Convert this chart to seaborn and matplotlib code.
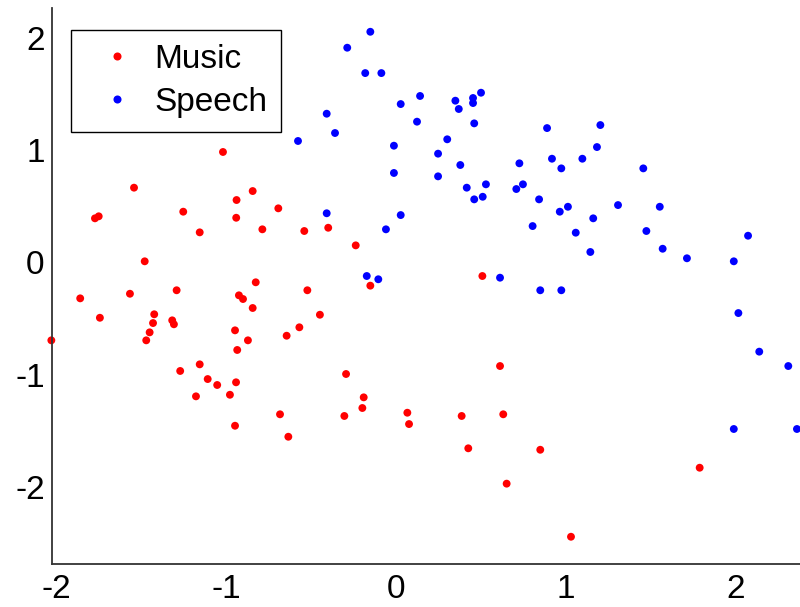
import numpy as np
import pandas as pd
import matplotlib
matplotlib.use("Agg")
import matplotlib.pyplot as plt
import seaborn as sns

# ---- data ----
music_x = [-2.029, -1.859, -1.772, -1.750, -1.743, -1.566, -1.542, -1.479, -1.423, -1.430,
           -1.450, -1.470, -1.291, -1.317, -1.307, -1.252, -1.155, -1.018, -0.938, -0.940,
           -0.924, -0.900, -0.947, -0.934, -1.155, -1.270, -1.108, -1.052, -0.941, -1.177,
           -0.977, -0.947, -0.843, -0.692, -0.786, -0.539, -0.398, -0.236, -0.150, -0.825,
           -0.843, -0.521, -0.447, -0.568, -0.643, -0.871, -0.293, -0.189, -0.682, -0.633,
           -0.303, -0.197, 0.068, 0.078, 0.388, 0.633, 0.427, 0.851, 0.653, 1.032,
           1.790, 0.510, 0.614]
music_y = [-0.695, -0.321, 0.392, 0.410, -0.494, -0.280, 0.665, 0.009, -0.463, -0.541,
           -0.624, -0.695, -0.249, -0.517, -0.552, 0.451, 0.267, 0.983, 0.555, 0.397,
           -0.294, -0.327, -0.606, -0.781, -0.909, -0.968, -1.040, -1.093, -1.069, -1.194,
           -1.180, -1.456, 0.635, 0.481, 0.294, 0.279, 0.308, 0.151, -0.208, -0.178,
           -0.407, -0.249, -0.467, -0.579, -0.654, -0.695, -0.995, -1.203, -1.354, -1.554,
           -1.369, -1.298, -1.340, -1.441, -1.369, -1.354, -1.657, -1.670, -1.972, -2.445,
           -1.830, -0.122, -0.924]

speech_x = [-0.150, -0.286, -0.180, -0.085, 0.143, 0.029, 0.125, -0.407, -0.358, -0.576,
            -0.011, -0.011, 0.249, 0.249, 0.303, 0.380, 0.371, 0.351, 0.455, 0.455,
            0.502, 0.462, 0.418, 0.531, 0.462, 0.512, 0.728, 0.710, 0.749, 0.844,
            0.891, 0.920, 0.975, 1.099, 1.185, 1.205, 1.458, 0.966, 1.014, 1.163,
            1.309, 0.806, 1.060, 1.146, 0.614, 0.851, 0.975, 1.555, 1.476, 1.572,
            1.715, 2.075, 1.991, 2.018, 2.141, 2.312, 1.991, 2.363, -0.407, 0.029,
            -0.058, -0.171, -0.103]
speech_y = [2.054, 1.912, 1.686, 1.686, 1.482, 1.410, 1.253, 1.324, 1.152, 1.081,
            1.039, 0.796, 0.968, 0.766, 1.096, 0.867, 1.366, 1.440, 1.464, 1.419,
            1.511, 1.238, 0.665, 0.695, 0.561, 0.584, 0.882, 0.653, 0.695, 0.561,
            1.196, 0.923, 0.837, 0.923, 1.027, 1.223, 0.837, 0.451, 0.495, 0.392,
            0.510, 0.323, 0.264, 0.092, -0.137, -0.249, -0.249, 0.495, 0.279, 0.121,
            0.036, 0.237, 0.009, -0.452, -0.796, -0.924, -1.485, -1.485, 0.437, 0.421,
            0.294, -0.122, -0.151]

classes = ["Music", "Speech"]
class_colors = {"Music": "#ff0000", "Speech": "#0000ff"}
x_ticks = [-2, -1, 0, 1, 2]
y_ticks = [-2, -1, 0, 1, 2]

df = pd.DataFrame({
    "x": music_x + speech_x,
    "y": music_y + speech_y,
    "cls": ["Music"] * len(music_x) + ["Speech"] * len(speech_x),
})

sns.set_style("white")
plt.rcParams["font.family"] = ["Liberation Sans", "DejaVu Sans"]
plt.rcParams["axes.unicode_minus"] = False
plt.rcParams["text.color"] = "black"

fig = plt.figure(figsize=(8.0, 6.07), dpi=100)
ax = fig.add_axes([0.0646, 0.0708, 0.9354, 0.9155])

sns.scatterplot(data=df, x="x", y="y", hue="cls", hue_order=classes,
                palette=class_colors, s=32, linewidth=0, ax=ax, legend=False)
for coll in ax.collections:
    coll.set_clip_on(False)

ax.set_xlim(-2.027, 2.381)
ax.set_ylim(-2.688, 2.263)
ax.set_xticks(x_ticks)
ax.set_yticks(y_ticks)
ax.set_xticklabels([str(t) for t in x_ticks])
ax.set_yticklabels([str(t) for t in y_ticks])
ax.set_xlabel("")
ax.set_ylabel("")

for side in ["top", "right"]:
    ax.spines[side].set_visible(False)
for side in ["left", "bottom"]:
    ax.spines[side].set_color("#333333")
    ax.spines[side].set_linewidth(1.3)

ax.tick_params(axis="both", direction="in", length=5, width=1.3, color="#333333",
               labelsize=24, labelcolor="black")
ax.tick_params(axis="x", pad=7)
ax.tick_params(axis="y", pad=5)

handles = [plt.Line2D([], [], marker="o", linestyle="none", markersize=5.8,
                      markerfacecolor=class_colors[c], markeredgewidth=0, label=c)
           for c in classes]
leg = ax.legend(handles=handles, loc="upper left", bbox_to_anchor=(0.0258, 0.961),
                borderaxespad=0, fontsize=24, frameon=True, fancybox=False,
                edgecolor="black", framealpha=1, borderpad=0.42, handlelength=1.94,
                handletextpad=0.14, labelspacing=0.36)
leg.get_frame().set_linewidth(1.0)
for t in leg.get_texts():
    t.set_color("black")

fig.savefig("out.png", dpi=100)
